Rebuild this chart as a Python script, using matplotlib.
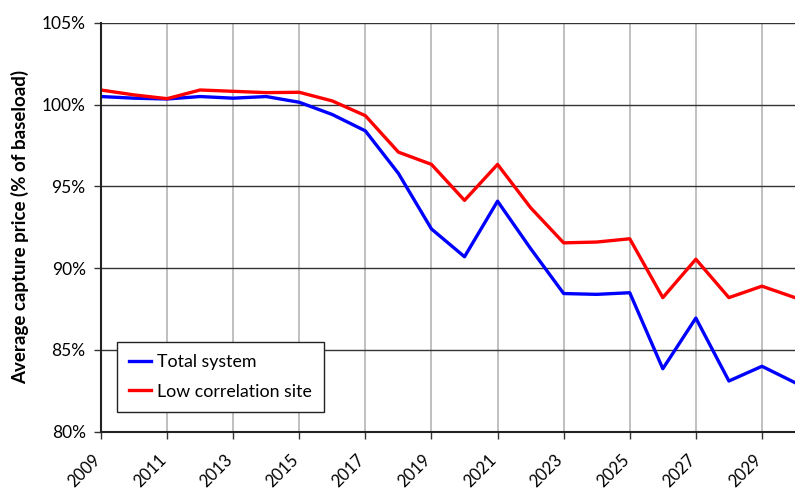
import matplotlib
matplotlib.use('Agg')
import matplotlib.pyplot as plt
import matplotlib.transforms as mtransforms
from matplotlib.ticker import FuncFormatter

# years and capture prices (% of baseload)
years = list(range(2009, 2031))
total_system = [100.5, 100.4, 100.35, 100.5, 100.4, 100.5, 100.15, 99.4, 98.4, 95.8,
                92.4, 90.7, 94.1, 91.2, 88.45, 88.4, 88.5, 83.85, 86.95, 83.1, 84.0, 83.0]
low_corr_site = [100.9, 100.6, 100.37, 100.9, 100.82, 100.74, 100.76, 100.23, 99.33, 97.1,
                 96.35, 94.15, 96.35, 93.7, 91.55, 91.6, 91.8, 88.2, 90.55, 88.2, 88.9, 88.2]
x_ticks = list(range(2009, 2031, 2))
y_ticks = [80, 85, 90, 95, 100, 105]

plt.rcParams['font.family'] = ['Lato', 'DejaVu Sans']

fig = plt.figure(figsize=(7.95, 4.92), dpi=100)
ax = fig.add_axes([0.127, 0.1226, 0.873, 0.8307])

ax.plot(years, total_system, color='#0000ff', lw=2.4, label='Total system')
ax.plot(years, low_corr_site, color='#ff0000', lw=2.4, label='Low correlation site')

ax.set_xlim(2009, 2030)
ax.set_ylim(80, 105)
ax.set_xticks(x_ticks)
ax.set_yticks(y_ticks)
ax.yaxis.set_major_formatter(FuncFormatter(lambda v, p: '%d%%' % v))
ax.tick_params(axis='both', labelsize=12.5, direction='out', length=5, width=1, color='#333333')
ax.tick_params(axis='y', pad=6)
ax.tick_params(axis='x', labelsize=12, pad=9)

# rotated year labels, end of text sits a bit left of and below the tick
shift = mtransforms.ScaledTranslation(-9 / 100, 0, fig.dpi_scale_trans)
for lbl in ax.get_xticklabels():
    lbl.set_rotation(45)
    lbl.set_ha('right')
    lbl.set_va('top')
    lbl.set_rotation_mode('anchor')
    lbl.set_transform(lbl.get_transform() + shift)

# grid: light vertical, dark horizontal
ax.xaxis.grid(True, color='#c0c0c0', lw=1.4)
ax.yaxis.grid(True, color='#333333', lw=1.0)
ax.set_axisbelow(True)

for s in ['top', 'right']:
    ax.spines[s].set_visible(False)
for s in ['left', 'bottom']:
    ax.spines[s].set_color('#222222')
    ax.spines[s].set_linewidth(1.5)

ax.set_ylabel('Average capture price (% of baseload)', fontsize=13.5, fontweight='bold')
ax.yaxis.set_label_coords(-0.104, 0.5)

leg = ax.legend(loc='lower left', bbox_to_anchor=(0.023, 0.048), fontsize=12.8, fancybox=False,
                framealpha=1, edgecolor='#222222', handlelength=1.2, handletextpad=0.35,
                labelspacing=0.75, borderpad=0.7, borderaxespad=0)
leg.get_frame().set_linewidth(1.0)

fig.savefig('out.png', dpi=100)
